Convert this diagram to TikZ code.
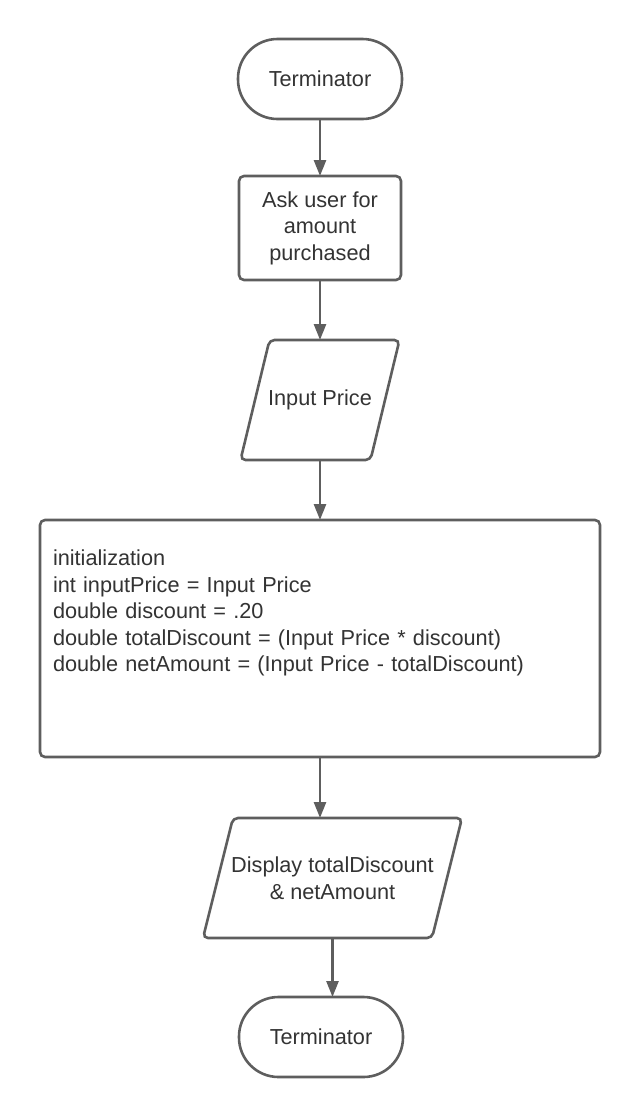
\documentclass[tikz,border=0pt]{standalone}
\usepackage{fontspec}
\setmainfont{Liberation Sans}
\usepackage{tikz}
\usetikzlibrary{shapes,arrows.meta,positioning}
\definecolor{stroke}{RGB}{94, 94, 94}
\definecolor{ink}{RGB}{51, 51, 51}
\newcommand{\chartfont}{\fontsize{21.7}{26.5}\selectfont}
\tikzstyle{term} = [rectangle, rounded corners=39.5pt, draw=stroke, line width=2.6pt, fill=white, text=ink, font=\chartfont, text centered, minimum width=164pt, minimum height=80pt, outer sep=0pt]
\tikzstyle{proc} = [rectangle, rounded corners=5pt, draw=stroke, line width=2.6pt, fill=white, text=ink, font=\chartfont, align=center, outer sep=0pt]
\tikzstyle{io} = [rectangle, text=ink, font=\chartfont, align=center, minimum height=120pt, outer sep=0pt]
\tikzstyle{ioline} = [draw=stroke, line width=2.6pt, rounded corners=5pt]
\tikzstyle{fedge} = [draw=stroke, line width=2.6pt, >={Triangle[length=16pt,width=12pt]}, ->]

\begin{document}
\begin{tikzpicture}[x=1pt, y=-1pt]
\useasboundingbox (0,0) rectangle (640,1117);

% flow chart steps =============================
\node[term] (start) at (320,79) {Terminator};
\node[proc, below=57pt of start, minimum width=162pt, minimum height=104pt] (ask) {Ask user for\\amount\\purchased};
\node[io, below=60pt of ask, minimum width=130pt] (inp) {Input Price};
\node[proc, below=60pt of inp, minimum height=237pt, text width=534pt, inner xsep=13pt, align=left] (init) {initialization\\int inputPrice = Input Price\\double discount = .20\\double totalDiscount = (Input Price * discount)\\double netAmount = (Input Price - totalDiscount)\\\strut\\[-6pt]\strut};
\node[io, below=61pt of init, xshift=12.5pt, minimum width=229pt] (disp) {Display totalDiscount\\\& netAmount};
\node[term, below=59pt of disp, xshift=-11.5pt] (stop) {Terminator};

% slanted input / output boxes
\draw[ioline] ([xshift=14.5pt]inp.north west) -- ([xshift=14.5pt]inp.north east) -- ([xshift=-14.5pt]inp.south east) -- ([xshift=-14.5pt]inp.south west) -- cycle;
\draw[ioline] ([xshift=15pt]disp.north west) -- ([xshift=15pt]disp.north east) -- ([xshift=-15pt]disp.south east) -- ([xshift=-15pt]disp.south west) -- cycle;

% edges
\path[fedge] (start) -- (ask);
\path[fedge] (ask) -- (inp);
\path[fedge] (inp) -- (init);
\path[fedge] (init.south) -- (init.south |- disp.north);
\path[fedge] (disp.south) -- (disp.south |- stop.north);

\end{tikzpicture}
\end{document}
